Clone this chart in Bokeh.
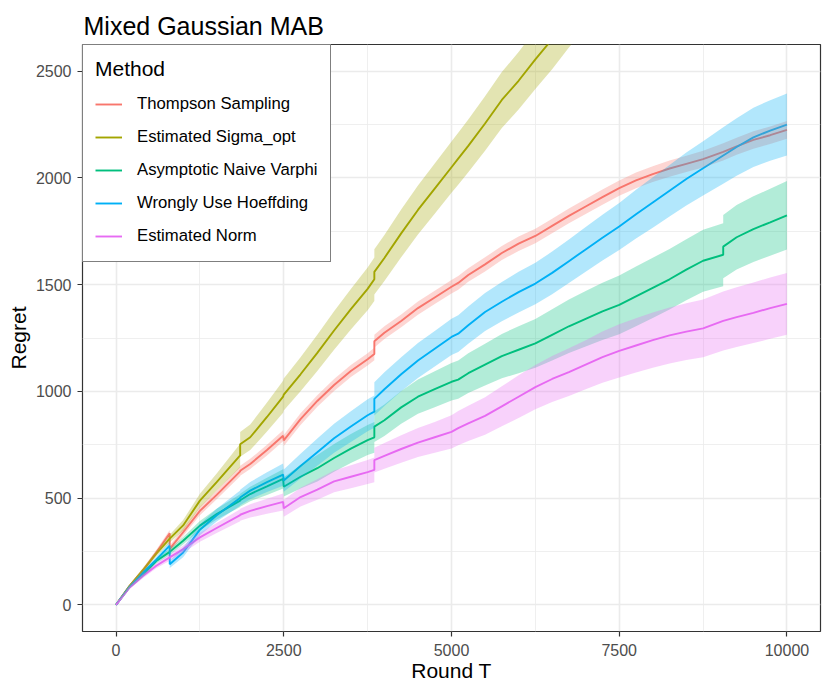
from bokeh.plotting import figure
from bokeh.models import Range1d, FixedTicker, Legend, LegendItem
from bokeh.embed import file_html
from bokeh.resources import INLINE

# ---------------- data ----------------
ROUND_T = [0, 200, 400, 600, 800, 800, 1000, 1250, 1500, 1850, 1850, 2000, 2250, 2490, 2500,
           2750, 3000, 3250, 3500, 3750, 3850, 3850, 4000, 4250, 4500, 4750, 5000, 5100, 5250,
           5500, 5750, 6000, 6250, 6500, 6750, 7000, 7250, 7500, 7750, 8000, 8250, 8500, 8750,
           9050, 9050, 9250, 9500, 9750, 10000]

METHODS = ["Thompson Sampling", "Estimated Sigma_opt", "Asymptotic Naive Varphi",
           "Wrongly Use Hoeffding", "Estimated Norm"]
COLORS = ["#F8766D", "#A3A500", "#00BF7D", "#00B0F6", "#E76BF3"]

thompson = [0, 88, 160, 245, 335, 262, 340, 440, 515, 625, 628, 660, 725, 792, 770, 870, 955,
            1030, 1095, 1150, 1175, 1235, 1275, 1330, 1390, 1440, 1490, 1508, 1545, 1595, 1648,
            1692, 1728, 1775, 1822, 1866, 1910, 1952, 1988, 2018, 2044, 2066, 2088, 2122, 2122,
            2148, 2178, 2200, 2225]
thompson_hw = [0, 6, 10, 13, 16, 16, 18, 20, 21, 23, 23, 24, 25, 26, 26, 27, 27, 28, 28, 29, 29,
               30, 30, 30, 31, 31, 32, 32, 32, 33, 33, 34, 34, 34, 35, 35, 36, 36, 37, 37, 38, 38,
               39, 40, 40, 40, 41, 41, 42]

sigma_opt = [0, 88, 162, 240, 310, 310, 372, 488, 575, 700, 752, 785, 880, 975, 985, 1080, 1180,
             1285, 1385, 1480, 1525, 1560, 1625, 1740, 1850, 1950, 2050, 2090, 2150, 2255, 2365,
             2455, 2555, 2650, 2755, 2850, 2950]
sigma_opt_hw = [0, 6, 10, 13, 18, 18, 25, 32, 40, 55, 58, 60, 68, 75, 75, 80, 85, 90, 95, 100,
                102, 106, 108, 112, 115, 118, 120, 122, 124, 128, 131, 135, 138, 141, 144, 147, 150]

naive_varphi = [0, 82, 140, 205, 248, 248, 300, 371, 425, 488, 490, 519, 555, 590, 553, 600, 640,
                688, 732, 772, 785, 835, 865, 925, 975, 1010, 1045, 1055, 1085, 1125, 1165, 1195,
                1225, 1265, 1305, 1340, 1375, 1405, 1445, 1485, 1525, 1570, 1612, 1640, 1678,
                1722, 1760, 1792, 1825]
naive_varphi_hw = [0, 6, 10, 12, 15, 15, 18, 22, 25, 30, 30, 34, 40, 45, 45, 55, 62, 65, 68, 70,
                   72, 72, 74, 77, 80, 84, 88, 90, 93, 98, 104, 110, 114, 120, 125, 130, 134, 138,
                   140, 141, 142, 143, 145, 148, 148, 151, 154, 157, 160]

hoeffding = [0, 85, 150, 212, 277, 190, 245, 352, 420, 500, 503, 535, 575, 610, 582, 650, 715,
             780, 835, 888, 905, 965, 1010, 1080, 1145, 1200, 1255, 1270, 1310, 1372, 1420, 1465,
             1505, 1555, 1610, 1665, 1720, 1772, 1830, 1885, 1940, 1995, 2045, 2105, 2105, 2145,
             2190, 2222, 2250]
hoeffding_hw = [0, 6, 10, 13, 18, 18, 22, 26, 30, 36, 36, 40, 46, 52, 52, 58, 64, 68, 72, 75, 76,
                78, 79, 80, 82, 83, 85, 86, 87, 89, 92, 95, 97, 100, 102, 105, 107, 110, 114, 118,
                121, 124, 127, 132, 132, 135, 139, 142, 145]

est_norm = [0, 80, 135, 183, 222, 222, 261, 316, 360, 420, 422, 440, 462, 482, 452, 505, 540, 578,
            600, 622, 632, 678, 698, 730, 760, 785, 810, 828, 850, 885, 930, 975, 1020, 1058, 1090,
            1125, 1160, 1190, 1215, 1240, 1262, 1280, 1295, 1330, 1330, 1348, 1368, 1390, 1410]
est_norm_hw = [0, 6, 10, 12, 15, 15, 17, 20, 23, 28, 28, 31, 35, 40, 40, 44, 48, 51, 54, 56, 58,
               58, 60, 64, 68, 72, 78, 80, 83, 88, 94, 100, 104, 108, 112, 115, 120, 125, 127, 129,
               131, 133, 135, 138, 138, 140, 142, 144, 145]

X_TICKS = [0, 2500, 5000, 7500, 10000]
X_MINOR = [1250, 3750, 6250, 8750]
Y_TICKS = [0, 500, 1000, 1500, 2000, 2500]
Y_MINOR = [250, 750, 1250, 1750, 2250]

SERIES = [(thompson, thompson_hw), (sigma_opt, sigma_opt_hw), (naive_varphi, naive_varphi_hw),
          (hoeffding, hoeffding_hw), (est_norm, est_norm_hw)]

FONT = "Liberation Sans"

# ---------------- figure ----------------
p = figure(width=830, height=692, output_backend="svg", toolbar_location=None,
           x_range=Range1d(-500, 10500), y_range=Range1d(-125, 2625),
           min_border_left=82, min_border_right=10, min_border_top=44, min_border_bottom=61,
           background_fill_color="white", border_fill_color="white")

p.title.text = "Mixed Gaussian MAB"
p.title.text_font = FONT
p.title.text_font_size = "25px"
p.title.text_font_style = "normal"
p.title.text_color = "black"
p.title.offset = 1
p.title.standoff = 9

p.outline_line_color = "#333333"
p.outline_line_width = 1.2

p.xaxis.ticker = FixedTicker(ticks=X_TICKS, minor_ticks=X_MINOR)
p.yaxis.ticker = FixedTicker(ticks=Y_TICKS, minor_ticks=Y_MINOR)
p.xaxis.axis_label = "Round T"
p.yaxis.axis_label = "Regret"
for ax in (p.xaxis, p.yaxis):
    ax.axis_line_color = None
    ax.major_tick_line_color = "#333333"
    ax.major_tick_line_width = 1.2
    ax.major_tick_out = 5
    ax.major_tick_in = 0
    ax.minor_tick_line_color = None
    ax.major_label_text_font = FONT
    ax.major_label_text_font_size = "16px"
    ax.major_label_text_color = "#4D4D4D"
    ax.axis_label_text_font = FONT
    ax.axis_label_text_font_size = "21px"
    ax.axis_label_text_font_style = "normal"
    ax.axis_label_text_color = "black"
p.xaxis.major_label_standoff = 7
p.yaxis.major_label_standoff = 6
p.xaxis.axis_label_standoff = 0
p.yaxis.axis_label_standoff = 3

p.grid.grid_line_color = "#EBEBEB"
p.grid.grid_line_width = 1.6
p.grid.minor_grid_line_color = "#EBEBEB"
p.grid.minor_grid_line_width = 0.8

# lines first, ribbons drawn on top (as in the reference)
line_renderers = []
for (mean, hw), color in zip(SERIES, COLORS):
    xs = ROUND_T[:len(mean)]
    r = p.line(xs, mean, line_color=color, line_width=1.9)
    line_renderers.append(r)
for (mean, hw), color in zip(SERIES, COLORS):
    xs = ROUND_T[:len(mean)]
    lo = [m - h for m, h in zip(mean, hw)]
    hi = [m + h for m, h in zip(mean, hw)]
    p.varea(x=xs, y1=lo, y2=hi, fill_color=color, fill_alpha=0.3)

legend = Legend(items=[LegendItem(label=m, renderers=[r]) for m, r in zip(METHODS, line_renderers)],
                location="top_left")
legend.title = "Method"
legend.title_text_font = FONT
legend.title_text_font_size = "21px"
legend.title_text_font_style = "normal"
legend.title_text_color = "black"
legend.title_standoff = 10
legend.label_text_font = FONT
legend.label_text_font_size = "16.7px"
legend.label_text_color = "black"
legend.margin = 0
legend.padding = 12
legend.spacing = 7
legend.glyph_width = 27
legend.glyph_height = 26
legend.label_height = 26
legend.label_standoff = 15
legend.border_line_color = "black"
legend.border_line_width = 1
legend.background_fill_alpha = 1.0
p.add_layout(legend)

open("out.html", "w").write(file_html(p, INLINE))
